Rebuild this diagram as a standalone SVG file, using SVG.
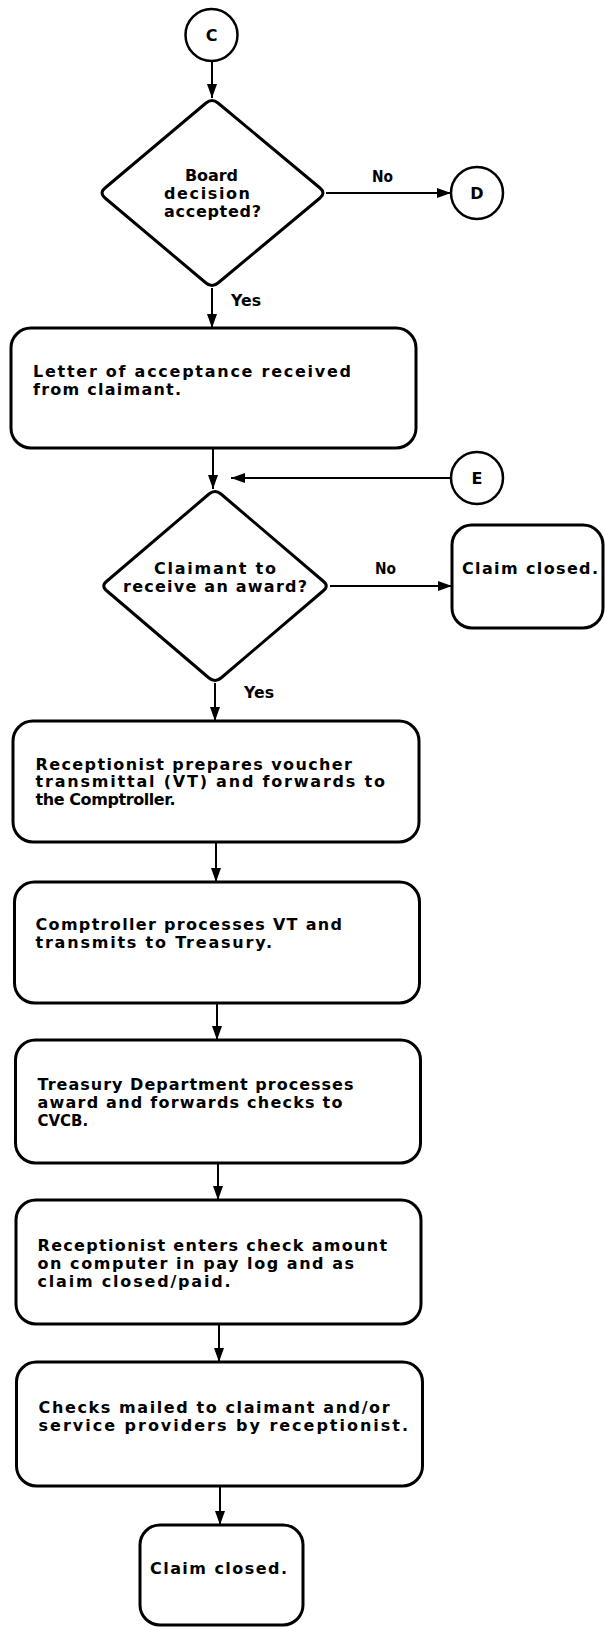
<svg xmlns="http://www.w3.org/2000/svg" width="605" height="1627" viewBox="0 0 605 1627">
  <style>
    .bg { fill: #ffffff; }
    .box { fill: #ffffff; stroke: #000000; stroke-width: 3; }
    .dec { fill: #ffffff; stroke: #000000; stroke-width: 3; stroke-linejoin: round; }
    .conn { fill: #ffffff; stroke: #000000; stroke-width: 2.5; }
    .edge { fill: none; stroke: #000000; stroke-width: 2; marker-end: url(#arrow); }
    text { font-family: "DejaVu Sans", "Liberation Sans", sans-serif; font-size: 16px; font-weight: bold; fill: #000000; }
    .mid { text-anchor: middle; }
  </style>
  <defs>
    <marker id="arrow" markerUnits="userSpaceOnUse" markerWidth="14" markerHeight="10" refX="14" refY="5" orient="auto">
      <path d="M0,0 L14,5 L0,10 Z" fill="#000000"/>
    </marker>
  </defs>

  <rect class="bg" x="0" y="0" width="605" height="1627"/>

  <!-- connectors -->
  <g id="connectors">
    <line class="edge" x1="212" y1="61" x2="212" y2="98"/>
    <line class="edge" x1="326" y1="193" x2="451" y2="193"/>
    <line class="edge" x1="212" y1="288" x2="212" y2="328"/>
    <line class="edge" x1="213" y1="448" x2="213" y2="489"/>
    <line class="edge" x1="451" y1="478" x2="231" y2="478"/>
    <line class="edge" x1="330" y1="586" x2="452" y2="586"/>
    <line class="edge" x1="215" y1="683" x2="215" y2="721"/>
    <line class="edge" x1="216" y1="842" x2="216" y2="882"/>
    <line class="edge" x1="217" y1="1003" x2="217" y2="1040"/>
    <line class="edge" x1="218" y1="1163" x2="218" y2="1200"/>
    <line class="edge" x1="219" y1="1324" x2="219" y2="1362"/>
    <line class="edge" x1="220" y1="1486" x2="220" y2="1525"/>
    <text x="372" y="182" textLength="21" lengthAdjust="spacingAndGlyphs">No</text>
    <text x="231" y="306" textLength="30" lengthAdjust="spacingAndGlyphs">Yes</text>
    <text x="375" y="574" textLength="21" lengthAdjust="spacingAndGlyphs">No</text>
    <text x="244" y="698" textLength="30" lengthAdjust="spacingAndGlyphs">Yes</text>
  </g>

  <!-- off-page connector C -->
  <g id="conn-c">
    <circle class="conn" cx="211.5" cy="35" r="26"/>
    <text class="mid" x="211.5" y="41">C</text>
  </g>

  <!-- decision: board decision accepted? -->
  <g id="dec-board">
    <path class="dec" d="M206,103 Q212,98 218,103 L320,188 Q326,193 320,198 L218,283 Q212,288 206,283 L105,198 Q99,193 105,188 Z"/>
    <text x="185" y="181" textLength="53" lengthAdjust="spacing">Board</text>
    <text x="164" y="199" textLength="86" lengthAdjust="spacing">decision</text>
    <text x="164" y="217" textLength="97" lengthAdjust="spacing">accepted?</text>
  </g>

  <!-- off-page connector D -->
  <g id="conn-d">
    <circle class="conn" cx="477" cy="193" r="26"/>
    <text class="mid" x="477" y="199">D</text>
  </g>

  <!-- letter of acceptance -->
  <g id="box-letter">
    <rect class="box" x="11" y="328" width="405" height="120" rx="20" ry="20"/>
    <text x="33" y="377" textLength="318" lengthAdjust="spacing">Letter of acceptance received</text>
    <text x="33" y="395" textLength="148" lengthAdjust="spacing">from claimant.</text>
  </g>

  <!-- off-page connector E -->
  <g id="conn-e">
    <circle class="conn" cx="477" cy="478" r="26"/>
    <text class="mid" x="477" y="484">E</text>
  </g>

  <!-- decision: claimant to receive an award? -->
  <g id="dec-award">
    <path class="dec" d="M209,494 Q215,489 221,494 L323,581 Q329.5,586 323,591 L221,678 Q215,683 209,678 L107,591 Q100.5,586 107,581 Z"/>
    <text x="154" y="574" textLength="122" lengthAdjust="spacing">Claimant to</text>
    <text x="123" y="592" textLength="184" lengthAdjust="spacing">receive an award?</text>
  </g>

  <!-- claim closed (no award) -->
  <g id="box-closed-noaward">
    <rect class="box" x="452" y="525" width="151" height="103" rx="20" ry="20"/>
    <text x="462" y="574" textLength="136" lengthAdjust="spacing">Claim closed.</text>
  </g>

  <!-- voucher transmittal -->
  <g id="box-voucher">
    <rect class="box" x="13" y="721" width="406" height="121" rx="20" ry="20"/>
    <text x="35.5" y="770" textLength="316.5" lengthAdjust="spacing">Receptionist prepares voucher</text>
    <text x="35.5" y="787" textLength="349.5" lengthAdjust="spacing">transmittal (VT) and forwards to</text>
    <text x="35.5" y="804.5" textLength="140" lengthAdjust="spacing">the Comptroller.</text>
  </g>

  <!-- comptroller -->
  <g id="box-comptroller">
    <rect class="box" x="14.5" y="882" width="405" height="121" rx="20" ry="20"/>
    <text x="35.5" y="930" textLength="306.5" lengthAdjust="spacing">Comptroller processes VT and</text>
    <text x="35.5" y="947.5" textLength="236.5" lengthAdjust="spacing">transmits to Treasury.</text>
  </g>

  <!-- treasury -->
  <g id="box-treasury">
    <rect class="box" x="15.5" y="1040" width="405" height="123" rx="20" ry="20"/>
    <text x="37.5" y="1090" textLength="316" lengthAdjust="spacing">Treasury Department processes</text>
    <text x="37.5" y="1108.3" textLength="305" lengthAdjust="spacing">award and forwards checks to</text>
    <text x="37.5" y="1126" textLength="50.6" lengthAdjust="spacingAndGlyphs">CVCB.</text>
  </g>

  <!-- pay log entry -->
  <g id="box-paylog">
    <rect class="box" x="16" y="1200" width="405" height="124" rx="20" ry="20"/>
    <text x="37.5" y="1251" textLength="349.6" lengthAdjust="spacing">Receptionist enters check amount</text>
    <text x="37.5" y="1268.5" textLength="316.6" lengthAdjust="spacing">on computer in pay log and as</text>
    <text x="37.5" y="1286.7" textLength="193" lengthAdjust="spacing">claim closed/paid.</text>
  </g>

  <!-- checks mailed -->
  <g id="box-mailed">
    <rect class="box" x="16.5" y="1362" width="406" height="124" rx="20" ry="20"/>
    <text x="38.6" y="1413.3" textLength="351" lengthAdjust="spacing">Checks mailed to claimant and/or</text>
    <text x="38.6" y="1431" textLength="369.4" lengthAdjust="spacing">service providers by receptionist.</text>
  </g>

  <!-- claim closed (final) -->
  <g id="box-closed-final">
    <rect class="box" x="140" y="1525" width="163" height="100" rx="20" ry="20"/>
    <text x="150" y="1574" textLength="137" lengthAdjust="spacing">Claim closed.</text>
  </g>
</svg>
